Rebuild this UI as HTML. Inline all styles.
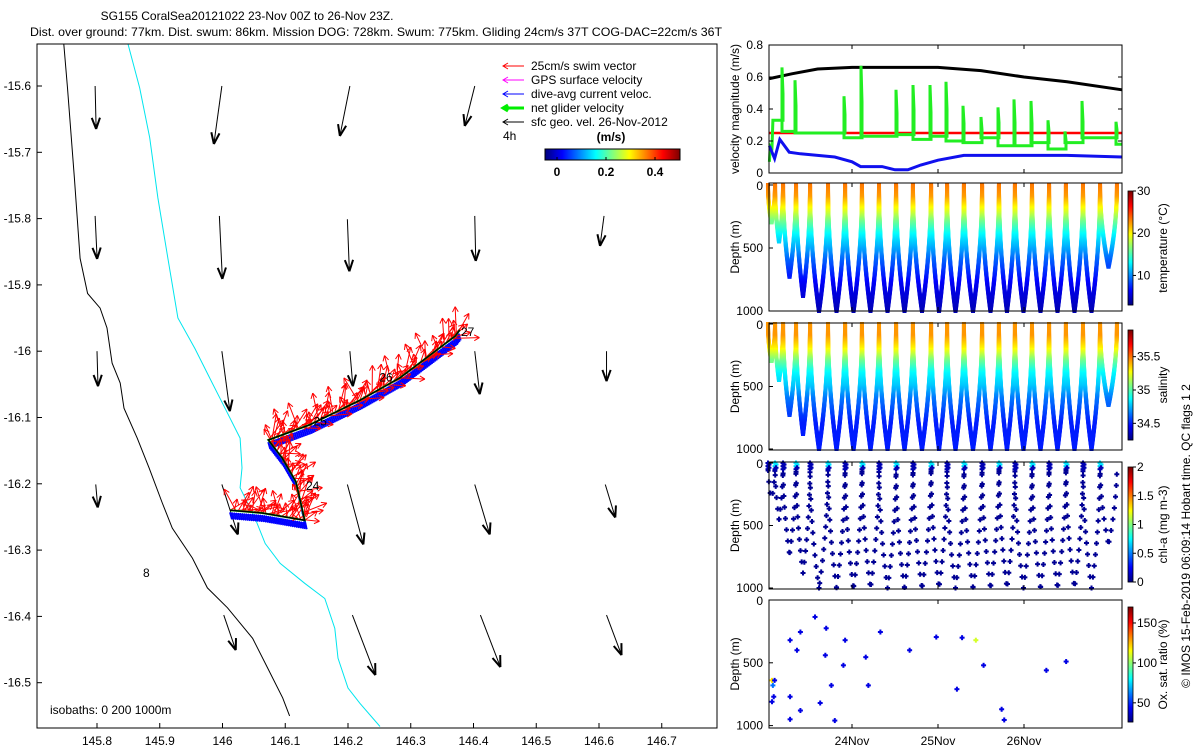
<!DOCTYPE html>
<html><head><meta charset="utf-8">
<style>
html,body{margin:0;padding:0;background:#fff;}
svg{display:block;font-family:"Liberation Sans",sans-serif;}
text{font-size:12px;fill:#000;}
</style></head>
<body>
<svg id="chart" width="1200" height="750" viewBox="0 0 1200 750" xmlns="http://www.w3.org/2000/svg">
<text x="247" y="20" text-anchor="middle">SG155 CoralSea20121022 23-Nov 00Z to 26-Nov 23Z.</text>
<text x="30" y="36" textLength="692" lengthAdjust="spacingAndGlyphs">Dist. over ground: 77km. Dist. swum: 86km. Mission DOG: 728km. Swum: 775km. Gliding 24cm/s 37T COG-DAC=22cm/s 36T</text>
<g id="map"></g>
<g id="right"></g>
<text transform="translate(1190,536) rotate(-90)" text-anchor="middle">© IMOS 15-Feb-2019 06:09:14 Hobart time. QC flags 1 2</text>
</svg>
<script>
// ---------- MAP DATA ----------
const lonTicks=[145.8,145.9,146,146.1,146.2,146.3,146.4,146.5,146.6,146.7];
const latTicks=[-15.6,-15.7,-15.8,-15.9,-16,-16.1,-16.2,-16.3,-16.4,-16.5];
const trackLon=[146.012,146.063,146.131,146.117,146.095,146.073,146.139,146.219,146.283,146.371,146.378];
const trackLat=[-16.240,-16.244,-16.255,-16.197,-16.161,-16.134,-16.111,-16.074,-16.040,-15.977,-15.968];
const coastLon=[145.747,145.753,145.764,145.773,145.785,145.805,145.816,145.824,145.837,145.843,145.864,145.883,145.904,145.920,145.952,145.976,146.008,146.048,146.072,146.096,146.107];
const coastLat=[-15.535,-15.603,-15.739,-15.860,-15.913,-15.935,-15.965,-16.018,-16.048,-16.086,-16.131,-16.176,-16.229,-16.267,-16.312,-16.357,-16.387,-16.433,-16.478,-16.523,-16.550];
const isoLon=[145.849,145.868,145.884,145.897,145.913,145.929,145.956,145.980,146.004,146.028,146.031,146.028,146.052,146.068,146.092,146.131,146.163,146.179,146.184,146.200,146.219,146.251];
const isoLat=[-15.535,-15.603,-15.678,-15.769,-15.860,-15.950,-15.996,-16.041,-16.086,-16.131,-16.176,-16.206,-16.252,-16.290,-16.320,-16.350,-16.373,-16.418,-16.463,-16.508,-16.531,-16.566];
const geoLon=[145.797,145.999,146.203,146.402,145.797,145.995,146.199,146.402,146.608,145.800,145.999,146.203,146.402,146.612,145.798,145.999,146.199,146.402,146.610,146.002,146.207,146.411,146.612];
const geoLat=[-15.600,-15.600,-15.600,-15.600,-15.796,-15.796,-15.801,-15.796,-15.796,-16.000,-16.000,-16.000,-16.000,-16.000,-16.201,-16.201,-16.201,-16.201,-16.201,-16.398,-16.398,-16.398,-16.398];
const geoU=[0.002,-0.016,-0.020,-0.020,0.004,0.006,0.004,0.002,-0.008,0.002,0.016,0.006,0.010,0.000,0.004,0.032,0.032,0.030,0.020,0.024,0.046,0.040,0.030];
const geoV=[-0.086,-0.116,-0.100,-0.080,-0.086,-0.126,-0.104,-0.090,-0.060,-0.070,-0.120,-0.070,-0.086,-0.060,-0.046,-0.100,-0.120,-0.100,-0.066,-0.070,-0.120,-0.104,-0.080];
const trackLabels=["24","25","26","27"];
const trackLabelLon=[146.133,146.145,146.250,146.380];
const trackLabelLat=[-16.209,-16.112,-16.046,-15.977];

// ---------- TIME SERIES DATA ----------
const dayTicks=[24,25,26];
const dayTickLabels=["24Nov","25Nov","26Nov"];
const velTicks=[0,0.2,0.4,0.6,0.8];
const blackT=[23.04,23.3,23.6,24.0,24.5,25.0,25.5,26.0,26.5,27.14];
const blackV=[0.59,0.62,0.65,0.66,0.66,0.66,0.64,0.60,0.57,0.52];
const blueT=[23.04,23.1,23.16,23.27,23.4,23.6,23.8,24.0,24.1,24.2,24.35,24.5,24.65,24.8,25.0,25.3,25.6,26.0,26.5,27.14];
const blueV=[0.17,0.09,0.21,0.13,0.12,0.11,0.10,0.07,0.04,0.04,0.04,0.02,0.02,0.05,0.08,0.11,0.11,0.11,0.11,0.10];
const redV=0.25;
const spikeT=[23.198,23.349,23.919,24.116,24.523,24.721,24.919,25.105,25.302,25.512,25.709,25.895,26.093,26.291,26.488,26.686,27.081];
const spikePeak=[0.66,0.58,0.48,0.67,0.52,0.55,0.55,0.57,0.42,0.35,0.41,0.46,0.45,0.33,0.26,0.45,0.32];
const spikeBase=[0.26,0.25,0.22,0.23,0.24,0.21,0.23,0.20,0.19,0.22,0.17,0.17,0.19,0.15,0.19,0.22,0.18];
const diveT=[23.023,23.105,23.198,23.349,23.512,23.721,23.919,24.116,24.314,24.512,24.709,24.919,25.105,25.302,25.512,25.709,25.895,26.093,26.291,26.488,26.686,26.884,27.081];
const diveMax=[300,450,730,880,1000,1000,1000,1000,1000,1000,1000,1000,1000,1000,1000,1000,1000,1000,1000,1000,1000,650];
const profDepth=[0,100,200,300,400,500,600,800,1000];
const profTemp=[23.5,22.5,19.5,16,13,11,9,6,4.5];
const profSal=[35.45,35.45,35.3,35.05,34.86,34.78,34.65,34.5,34.5];
const oxT=[23.07,23.08,23.09,23.10,23.28,23.36,23.40,23.57,23.70,23.69,23.76,23.90,23.92,24.16,24.19,24.33,24.67,24.98,25.22,25.28,25.44,25.53,25.74,25.77,26.26,26.49,23.07,23.28,23.40,23.63,23.80,23.28];
const oxD=[640,680,770,640,320,400,255,135,225,440,680,520,320,455,680,255,400,295,710,300,320,520,870,955,560,490,810,770,880,820,960,950];
const oxVal=[120,60,40,40,40,40,40,40,40,40,40,40,40,40,40,40,40,40,40,40,110,40,40,40,40,40,40,40,40,40,40,40];
const tempCbTicks=[10,20,30];
const salCbTicks=[34.5,35,35.5];
const chlCbTicks=[0,0.5,1,1.5,2];
const oxCbTicks=[50,100,150];
const velCbTicks=[0,0.2,0.4];

const NS="http://www.w3.org/2000/svg";
function mk(parent,tag,attrs){const e=document.createElementNS(NS,tag);for(const k in attrs)e.setAttribute(k,attrs[k]);parent.appendChild(e);return e;}
function jet(v){v=Math.max(0,Math.min(1,v));const r=Math.max(0,Math.min(1,1.5-Math.abs(4*v-3)));const g=Math.max(0,Math.min(1,1.5-Math.abs(4*v-2)));const b=Math.max(0,Math.min(1,1.5-Math.abs(4*v-1)));return `rgb(${Math.round(r*255)},${Math.round(g*255)},${Math.round(b*255)})`;}
function interp(xs,ys,x){if(x<=xs[0])return ys[0];for(let i=1;i<xs.length;i++){if(x<=xs[i]){const f=(x-xs[i-1])/(xs[i]-xs[i-1]);return ys[i-1]+f*(ys[i]-ys[i-1]);}}return ys[ys.length-1];}
function plus(parent,x,y,s,col){mk(parent,'rect',{x:x-s/2,y:y-1,width:s,height:2,fill:col});mk(parent,'rect',{x:x-1,y:y-s/2,width:2,height:s,fill:col});}

// ---------- MAP ----------
const map=document.getElementById('map');
const MX0=37,MX1=717,MY0=44,MY1=728;
const lonX=l=>97+(l-145.8)*627.5;
const latY=l=>86+(-15.6-l)*663;
mk(map,'rect',{x:MX0,y:MY0,width:MX1-MX0,height:MY1-MY0,fill:'#fff',stroke:'none'});
function line(parent,xs,ys,color,w,name){const p=xs.map((x,i)=>lonX(x).toFixed(1)+','+latY(ys[i]).toFixed(1)).join(' ');const e=mk(parent,'polyline',{points:p,fill:'none',stroke:color,'stroke-width':w});return e;}
const clip=mk(map,'clipPath',{id:'mapclip'});mk(clip,'rect',{x:MX0,y:MY0,width:MX1-MX0,height:MY1-MY0});
const mg=mk(map,'g',{'clip-path':'url(#mapclip)'});
line(mg,coastLon,coastLat,'#000',1,'coastline');
line(mg,isoLon,isoLat,'#00e5ee',1,'isobath-200m');
for(let i=0;i<geoLon.length;i++){
  const x1=lonX(geoLon[i]),y1=latY(geoLat[i]);
  const x2=x1+geoU[i]*500,y2=y1-geoV[i]*500;
  const ang=Math.atan2(y2-y1,x2-x1);
  const g=mk(mg,'g',{stroke:'#000',fill:'none','stroke-width':1});
  
  
  mk(g,'line',{x1:x1,y1:y1,x2:x2,y2:y2});
  const hl=12;
  for(const s of [-0.35,0.35]){mk(g,'line',{x1:x2,y1:y2,x2:x2-hl*Math.cos(ang+s),y2:y2-hl*Math.sin(ang+s),'stroke-width':2});}
}
const pts=trackLon.map((l,i)=>[lonX(l),latY(trackLat[i])]);
const dense=[];
for(let i=1;i<pts.length;i++){const [ax,ay]=pts[i-1],[bx,by]=pts[i];const n=Math.max(1,Math.round(Math.hypot(bx-ax,by-ay)/2));for(let k=0;k<n;k++){dense.push([ax+(bx-ax)*k/n,ay+(by-ay)*k/n]);}}
const blueG=mk(mg,'g',{stroke:'#0000ff','stroke-width':2});


const redG=mk(mg,'g',{stroke:'#ff0000','stroke-width':1});


dense.forEach(([x,y],k)=>{
  mk(blueG,'line',{x1:x,y1:y+2,x2:x+2,y2:y+9});
});
dense.forEach(([x,y],k)=>{
  const a=-1.0+0.7*Math.sin(k*1.7)+0.45*Math.cos(k*0.93);
  const L=20+8*Math.sin(k*2.3);
  const x2=x+L*Math.cos(a),y2=y+L*Math.sin(a);
  mk(redG,'line',{x1:x,y1:y,x2:x2,y2:y2});
  mk(redG,'line',{x1:x2,y1:y2,x2:x2-6*Math.cos(a-0.5),y2:y2-6*Math.sin(a-0.5)});
  mk(redG,'line',{x1:x2,y1:y2,x2:x2-6*Math.cos(a+0.5),y2:y2-6*Math.sin(a+0.5)});
});
line(mg,trackLon,trackLat,'#00ee00',2,'net-glider-velocity-track');
line(mg,trackLon,trackLat,'#000',1.5,'glider-track');
trackLabels.forEach((t,i)=>{const e=mk(mg,'text',{x:lonX(trackLabelLon[i]),y:latY(trackLabelLat[i])});e.textContent=t;});
const st=mk(mg,'text',{x:143,y:577,'font-size':'8px',fill:'#8a5a00'});st.textContent='8';
const fr=mk(map,'rect',{x:MX0,y:MY0,width:MX1-MX0,height:MY1-MY0,fill:'none',stroke:'#000','stroke-width':1});

lonTicks.forEach(l=>{const x=lonX(l);mk(map,'line',{x1:x,y1:MY1,x2:x,y2:MY1-5,stroke:'#000'});const t=mk(map,'text',{x:x,y:745,'text-anchor':'middle'});t.textContent=String(l);});
latTicks.forEach(l=>{const y=latY(l);mk(map,'line',{x1:MX0,y1:y,x2:MX0+5,y2:y,stroke:'#000'});const t=mk(map,'text',{x:31,y:y+4,'text-anchor':'end'});t.textContent=String(l);});
const iso=mk(map,'text',{x:50,y:714});iso.textContent='isobaths: 0   200  1000m';
const lg=mk(map,'g',{});


const legNames=['25cm/s swim vector','GPS surface velocity','dive-avg current veloc.','net glider velocity','sfc geo. vel. 26-Nov-2012'];
const legCol=['#ff0000','#ff00ff','#0000ff','#00ee00','#000'];
legNames.forEach((n,i)=>{const y=66+i*14;const w=i==3?3:1;mk(lg,'line',{x1:503,y1:y,x2:524,y2:y,stroke:legCol[i],'stroke-width':w});mk(lg,'polyline',{points:`508,${y-3} 503,${y} 508,${y+3}`,fill:'none',stroke:legCol[i],'stroke-width':w});const t=mk(lg,'text',{x:531,y:y+4});t.textContent=n;});
const t4=mk(lg,'text',{x:503,y:140});t4.textContent='4h';
const tms=mk(lg,'text',{x:611,y:141,'text-anchor':'middle','font-weight':'bold'});tms.textContent='(m/s)';
for(let i=0;i<135;i++){mk(lg,'rect',{x:545+i,y:149,width:1.2,height:11,fill:jet(i/134)});}
mk(lg,'rect',{x:545,y:149,width:135,height:11,fill:'none',stroke:'#000'});
velCbTicks.forEach(v=>{const x=557+v*245;mk(lg,'line',{x1:x,y1:160,x2:x,y2:157,stroke:'#000'});const t=mk(lg,'text',{x:x,y:176,'text-anchor':'middle','font-weight':'bold'});t.textContent=String(v);});

// ---------- RIGHT PANELS ----------
const R=document.getElementById('right');
const RX0=769,RX1=1122;
const dayX=d=>852+(d-24)*86;
function frame(y0,y1,name){const e=mk(R,'rect',{x:RX0,y:y0,width:RX1-RX0,height:y1-y0,fill:'none',stroke:'#000'});dayTicks.forEach(d=>{const x=dayX(d);mk(R,'line',{x1:x,y1:y1,x2:x,y2:y1-4,stroke:'#000'});mk(R,'line',{x1:x,y1:y0,x2:x,y2:y0+4,stroke:'#000'});});}
const P1a=45,P1b=173;
const vy=v=>P1b-v*(P1b-P1a)/0.8;
function poly(parent,xs,ys,col,w,name){const e=mk(parent,'polyline',{points:xs.map((x,i)=>x.toFixed(1)+','+ys[i].toFixed(1)).join(' '),fill:'none',stroke:col,'stroke-width':w});}
poly(R,blackT.map(dayX),blackV.map(vy),'#000',3,'geo-velocity-line');
poly(R,[dayX(23.04),dayX(27.14)],[vy(redV),vy(redV)],'#ff0000',2.5,'swim-speed-line');
const gx=[dayX(23.04),dayX(23.05),dayX(23.07),dayX(23.08)],gyv=[0.07,0.17,0.16,0.33];
let prev=0.33;
spikeT.forEach((t,i)=>{const x=dayX(t);gx.push(x,x,x-1,x-1,x+2);gyv.push(prev,(prev+spikePeak[i])/2,spikePeak[i],spikeBase[i],spikeBase[i]);prev=spikeBase[i];});
gx.push(RX1);gyv.push(prev);
poly(R,gx,gyv.map(vy),'#22ee22',3,'net-glider-velocity-line');
poly(R,blueT.map(dayX),blueV.map(vy),'#1010ee',3,'dive-avg-current-line');
frame(P1a,P1b,'velocity-panel-frame');
velTicks.forEach(v=>{const y=vy(v);mk(R,'line',{x1:RX0,y1:y,x2:RX0+4,y2:y,stroke:'#000'});mk(R,'line',{x1:RX1,y1:y,x2:RX1-4,y2:y,stroke:'#000'});const t=mk(R,'text',{x:763,y:y+4,'text-anchor':'end'});t.textContent=String(v);});
const vl=mk(R,'text',{transform:'translate(739,109) rotate(-90)','text-anchor':'middle'});vl.textContent='velocity magnitude (m/s)';

function depthPanel(y0,y1,dTop,dBot,name,fn,cb,cbTicks,cbLabel,mode){
  const dy=d=>dTop+d*(dBot-dTop)/1000;
  const g=mk(R,'g',{});
  
  
  for(let i=0;i<diveMax.length;i++){
    const t0=diveT[i],t1=diveT[i+1],md=diveMax[i];
    const tm=(t0+t1)/2;
    const step=mode==='dense'?8:90;
    if(mode!=='dense'){
      for(const d of [0,12,25,38,50]){plus(g,dayX(t0)+(d%25?1:0),dy(d),5,d<30&&i%2?jet(0.35):jet(0.05));}
    }
    for(let d=(mode==='dense'?0:60);d<=md;d+=step){
      for(const leg of [0,1]){
        const dd=mode==='dense'?d:Math.min(md,d+((i*37+leg*53)%50));
        const f=Math.pow(dd/md,2);
        const t=leg===0?t0+(tm-t0)*f:t1-(t1-tm)*f;
        const col=fn(dd);
        if(mode==='dense'){mk(g,'rect',{x:dayX(t)-2,y:dy(dd)-2,width:4,height:4,fill:col});}
        else plus(g,dayX(t),dy(dd),5,col);
      }
    }
  }
  frame(y0,y1,name+'-frame');
  [0,500,1000].forEach(d=>{const y=dy(d);mk(R,'line',{x1:RX0,y1:y,x2:RX0+4,y2:y,stroke:'#000'});const t=mk(R,'text',{x:763,y:y+(d===0?5:4),'text-anchor':'end'});t.textContent=String(d);});
  const yl=mk(R,'text',{transform:`translate(739,${(y0+y1)/2}) rotate(-90)`,'text-anchor':'middle'});yl.textContent='Depth (m)';
  
  
  const [cy0,cy1,vmin,vmax]=cb;
  const cg=mk(R,'g',{});
  
  
  const n=cy1-cy0;
  for(let k=0;k<n;k++){mk(cg,'rect',{x:1128,y:cy1-k-1,width:5,height:1.3,fill:jet(k/(n-1))});}
  mk(cg,'rect',{x:1128,y:cy0,width:5,height:n,fill:'none',stroke:'#000','stroke-width':0.8});
  cbTicks.forEach(v=>{const y=cy1-(v-vmin)/(vmax-vmin)*n;mk(cg,'line',{x1:1133,y1:y,x2:1136,y2:y,stroke:'#000'});const t=mk(cg,'text',{x:1137,y:y+4});t.textContent=String(v);});
  const cl=mk(cg,'text',{transform:`translate(1167,${(cy0+cy1)/2}) rotate(-90)`,'text-anchor':'middle'});cl.textContent=cbLabel;
}
depthPanel(183,311,185,311,'temperature-panel',d=>jet((interp(profDepth,profTemp,d)-3)/27),[191,305,3,30],tempCbTicks,'temperature (°C)','dense');
depthPanel(323,450,324,449,'salinity-panel',d=>jet((interp(profDepth,profSal,d)-34.25)/1.65),[330,440,34.25,35.9],salCbTicks,'salinity','dense');
depthPanel(462,589,463,588,'chl-panel',d=>jet(0.02),[467,582,0,2],chlCbTicks,'chl-a (mg m-3)','sparse');
(function(){
  const y0=600,y1=728,dy=d=>600+d*0.1256;
  const g=mk(R,'g',{});
  
  
  oxT.forEach((t,i)=>{plus(g,dayX(t),dy(oxD[i]),5,jet((oxVal[i]-26)/144));});
  frame(y0,y1,'oxygen-panel-frame');
  [0,500,1000].forEach(d=>{const y=dy(d);mk(R,'line',{x1:RX0,y1:y,x2:RX0+4,y2:y,stroke:'#000'});const t=mk(R,'text',{x:763,y:y+(d===0?5:4),'text-anchor':'end'});t.textContent=String(d);});
  const yl=mk(R,'text',{transform:'translate(739,664) rotate(-90)','text-anchor':'middle'});yl.textContent='Depth (m)';
  const cg=mk(R,'g',{});
  
  
  const cy0=607,cy1=722,n=cy1-cy0,vmin=26,vmax=170;
  for(let k=0;k<n;k++){mk(cg,'rect',{x:1128,y:cy1-k-1,width:5,height:1.3,fill:jet(k/(n-1))});}
  mk(cg,'rect',{x:1128,y:cy0,width:5,height:n,fill:'none',stroke:'#000','stroke-width':0.8});
  oxCbTicks.forEach(v=>{const y=cy1-(v-vmin)/(vmax-vmin)*n;mk(cg,'line',{x1:1133,y1:y,x2:1136,y2:y,stroke:'#000'});const t=mk(cg,'text',{x:1137,y:y+4});t.textContent=String(v);});
  const cl=mk(cg,'text',{transform:`translate(1167,${(cy0+cy1)/2}) rotate(-90)`,'text-anchor':'middle'});cl.textContent='Ox. sat. ratio (%)';
  dayTicks.forEach((d,i)=>{const t=mk(R,'text',{x:dayX(d),y:745,'text-anchor':'middle'});t.textContent=dayTickLabels[i];});
})();
</script>
</body></html>
